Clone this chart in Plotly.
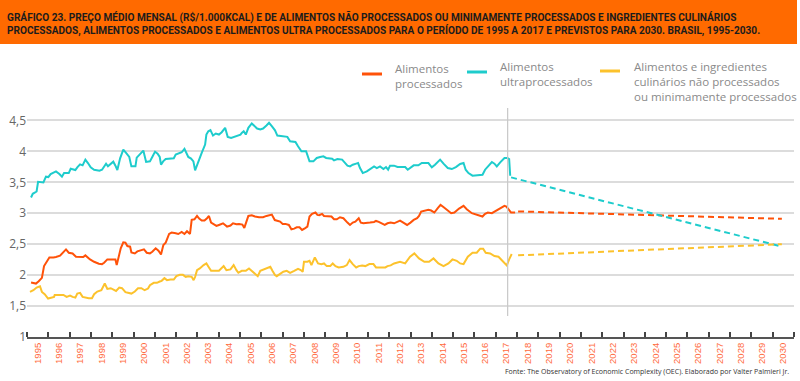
import plotly.graph_objects as go

# ---------------- DATA ----------------
years_ultra = [1995.19,1995.27,1995.38,1995.45,1995.52,1995.64,1995.77,1995.89,1996.00,1996.11,1996.24,1996.36,1996.52,1996.64,1996.74,1996.96,1997.05,1997.18,1997.27,1997.36,1997.49,1997.61,1997.74,1997.86,1997.99,1998.15,1998.40,1998.52,1998.71,1998.80,1998.93,1999.05,1999.15,1999.24,1999.37,1999.52,1999.65,1999.80,1999.90,2000.09,2000.15,2000.31,2000.46,2000.59,2000.77,
    2000.88,2001.01,2001.13,2001.23,2001.29,2001.39,2001.51,2001.73,2001.89,2001.98,2002.10,2002.26,2002.39,2002.48,2002.57,2002.70,2002.81,2002.89,2003.04,2003.20,2003.36,2003.42,2003.51,2003.61,2003.73,2003.86,2004.01,2004.14,2004.30,2004.42,2004.58,2004.70,2004.86,2005.02,2005.08,2005.17,2005.27,2005.39,2005.55,2005.67,2005.80,2005.95,2006.08,2006.24,2006.36,2006.49,
    2006.64,2006.75,2007.00,2007.22,2007.35,2007.60,2007.72,2007.88,2008.10,2008.26,2008.44,2008.60,2008.76,2008.91,2009.04,2009.32,2009.41,2009.57,2009.79,2009.91,2010.04,2010.16,2010.29,2010.45,2010.54,2010.63,2010.76,2010.95,2011.13,2011.29,2011.42,2011.57,2011.73,2011.85,2011.95,2012.04,2012.23,2012.39,2012.51,
    2012.75,2012.87,2013.03,2013.15,2013.37,2013.53,2013.84,2014.00,2014.15,2014.39,2014.55,2014.75,2014.94,2015.13,2015.33,2015.49,2015.59,2015.72,2015.91,2016.16,2016.38,2016.50,2016.63,2016.82,2016.94,2017.05,2017.21,2017.41,2017.54,2017.63,2017.68]
price_ultra = [3.255,3.315,3.336,3.352,3.509,3.509,3.499,3.591,3.585,3.634,3.650,3.677,3.634,3.591,3.650,3.650,3.720,3.704,3.699,3.742,3.791,3.775,3.867,3.812,3.742,3.704,3.688,3.704,3.802,3.758,3.796,3.834,3.769,3.699,3.888,4.029,3.975,3.910,3.758,3.758,3.899,3.959,4.013,3.829,3.839,
    3.910,3.996,3.964,3.910,3.785,3.839,3.877,3.877,3.888,3.948,3.964,3.986,4.040,3.964,3.910,3.883,3.839,3.693,3.839,3.975,4.110,4.272,4.326,4.343,4.256,4.289,4.272,4.310,4.381,4.235,4.218,4.235,4.256,4.272,4.299,4.326,4.272,4.381,4.451,4.408,4.370,4.354,4.370,4.418,4.462,4.408,
    4.340,4.256,4.245,4.235,4.164,4.153,4.083,4.002,4.002,3.839,3.839,3.894,3.910,3.921,3.894,3.883,3.856,3.877,3.867,3.812,3.769,3.758,3.785,3.802,3.812,3.731,3.650,3.677,3.715,3.758,3.731,3.758,3.715,3.747,3.704,3.769,3.769,3.747,3.747,
    3.747,3.704,3.747,3.775,3.775,3.812,3.812,3.742,3.785,3.867,3.802,3.731,3.715,3.747,3.796,3.812,3.704,3.650,3.607,3.612,3.623,3.704,3.758,3.829,3.802,3.758,3.823,3.894,3.894,3.877,3.607]

years_proc = [1995.19,1995.30,1995.42,1995.55,1995.70,1995.80,1995.92,1996.05,1996.24,1996.36,1996.55,1996.71,1996.83,1996.96,1997.14,1997.30,1997.49,1997.64,1997.74,1997.96,1998.15,1998.37,1998.52,1998.62,1998.77,1998.96,1999.15,1999.21,1999.30,1999.40,1999.52,1999.62,1999.71,1999.84,1999.90,2000.06,2000.18,2000.37,2000.49,2000.62,2000.77,
    2000.88,2001.04,2001.17,2001.29,2001.40,2001.51,2001.67,2001.79,2001.98,2002.10,2002.26,2002.39,2002.51,2002.65,2002.73,2002.86,2002.98,2003.08,2003.20,2003.33,2003.45,2003.54,2003.64,2003.76,2003.89,2004.01,2004.20,2004.39,2004.55,2004.67,2004.83,2004.95,2005.11,2005.20,2005.39,2005.55,2005.70,2005.89,2006.08,2006.24,2006.36,2006.49,
    2006.63,2006.75,2006.88,2007.00,2007.13,2007.29,2007.41,2007.54,2007.66,2007.79,2007.91,2008.04,2008.16,2008.26,2008.38,2008.54,2008.63,2008.72,2008.85,2008.94,2009.10,2009.29,2009.41,2009.54,2009.69,2009.85,2010.04,2010.16,2010.29,2010.41,2010.57,2010.67,2010.79,2010.95,2011.10,2011.29,2011.38,2011.51,2011.64,2011.79,2011.92,2012.07,2012.23,2012.39,2012.51,
    2012.72,2012.84,2013.00,2013.15,2013.31,2013.40,2013.50,2013.65,2013.84,2013.97,2014.12,2014.28,2014.41,2014.56,2014.75,2014.91,2015.06,2015.28,2015.49,2015.64,2015.88,2016.11,2016.38,2016.50,2016.63,2016.82,2016.94,2017.13,2017.25,2017.41,2017.50,2017.60,2017.72,2017.91]
price_proc = [1.881,1.875,1.864,1.902,1.956,2.146,2.216,2.286,2.286,2.292,2.314,2.378,2.416,2.362,2.351,2.297,2.292,2.292,2.319,2.254,2.216,2.184,2.178,2.200,2.254,2.254,2.254,2.162,2.297,2.433,2.530,2.525,2.470,2.460,2.368,2.351,2.384,2.406,2.416,2.362,2.351,
    2.378,2.433,2.395,2.335,2.487,2.525,2.665,2.687,2.676,2.665,2.698,2.665,2.709,2.665,2.893,2.903,2.957,2.914,2.882,2.882,2.920,2.957,2.849,2.828,2.795,2.811,2.838,2.784,2.801,2.838,2.822,2.828,2.817,2.763,2.957,2.968,2.947,2.936,2.936,2.957,2.968,2.979,
    2.890,2.882,2.865,2.828,2.828,2.811,2.741,2.752,2.773,2.773,2.730,2.757,2.784,2.947,2.990,3.012,2.974,2.968,2.990,2.957,2.947,2.947,2.903,2.903,2.936,2.920,2.849,2.811,2.849,2.865,2.920,2.849,2.838,2.849,2.849,2.860,2.876,2.860,2.838,2.811,2.838,2.849,2.838,2.871,2.882,
    2.838,2.811,2.849,2.892,2.920,2.957,3.028,3.044,3.055,3.044,3.012,3.082,3.136,3.098,3.044,3.001,3.012,3.076,3.120,3.066,3.001,2.974,2.947,2.990,3.012,3.001,3.028,3.066,3.087,3.120,3.109,3.066,3.012,3.012]

years_fresh = [1995.14,1995.30,1995.45,1995.61,1995.70,1995.83,1995.99,1996.14,1996.27,1996.30,1996.55,1996.71,1996.86,1997.02,1997.14,1997.27,1997.36,1997.49,1997.61,1997.74,1997.90,1998.05,1998.15,1998.30,1998.49,1998.65,1998.77,1998.93,1999.08,1999.18,1999.33,1999.46,1999.62,1999.77,1999.90,2000.06,2000.21,2000.37,2000.52,2000.68,2000.77,
    2000.95,2001.10,2001.23,2001.32,2001.45,2001.57,2001.73,2001.89,2002.01,2002.17,2002.32,2002.45,2002.57,2002.73,2002.82,2002.89,2002.98,2003.11,2003.29,2003.42,2003.54,2003.64,2003.83,2004.01,2004.23,2004.36,2004.55,2004.70,2004.83,2004.92,2005.08,2005.27,2005.42,2005.64,2005.83,2005.95,2006.11,2006.27,2006.42,2006.52,2006.64,
    2006.72,2006.88,2007.03,2007.19,2007.35,2007.54,2007.72,2007.85,2007.94,2008.00,2008.16,2008.26,2008.35,2008.51,2008.66,2008.82,2008.94,2009.07,2009.23,2009.35,2009.48,2009.63,2009.85,2010.01,2010.14,2010.29,2010.45,2010.57,2010.73,2010.88,2011.07,2011.26,2011.38,2011.57,2011.82,2011.92,2012.07,2012.23,2012.51,
    2012.75,2012.98,2013.18,2013.40,2013.65,2013.87,2014.08,2014.31,2014.55,2014.78,2014.97,2015.17,2015.33,2015.49,2015.69,2015.91,2016.11,2016.27,2016.41,2016.53,2016.74,2016.94,2017.13,2017.32,2017.52,2017.63,2017.75]
price_fresh = [1.729,1.756,1.799,1.821,1.729,1.691,1.621,1.637,1.648,1.680,1.680,1.680,1.648,1.670,1.648,1.637,1.702,1.713,1.648,1.637,1.626,1.626,1.691,1.735,1.756,1.864,1.778,1.789,1.767,1.745,1.799,1.789,1.724,1.713,1.702,1.735,1.789,1.789,1.756,1.783,1.837,
    1.875,1.875,1.897,1.908,1.951,1.919,1.929,1.929,1.983,2.005,2.005,1.973,1.983,1.973,1.919,1.973,2.081,2.108,2.162,2.189,2.124,2.070,2.070,2.070,2.146,2.081,2.092,2.162,2.081,2.038,2.070,2.070,2.108,2.038,1.983,2.070,2.092,2.108,2.135,2.070,2.000,
    1.983,2.027,2.054,2.070,2.038,2.070,2.103,2.081,2.054,2.216,2.216,2.232,2.162,2.286,2.189,2.178,2.189,2.146,2.146,2.189,2.146,2.124,2.135,2.162,2.243,2.178,2.124,2.146,2.157,2.146,2.178,2.178,2.124,2.124,2.124,2.146,2.157,2.189,2.216,
    2.189,2.297,2.351,2.270,2.216,2.216,2.270,2.189,2.146,2.189,2.254,2.232,2.189,2.178,2.297,2.362,2.362,2.427,2.427,2.362,2.351,2.308,2.297,2.232,2.157,2.254,2.341]

# forecasts (start, 2030)
fc_years_ultra = [2017.72, 2030.43]
fc_ultra = [3.58, 2.46]
fc_years_proc = [2018.05, 2030.43]
fc_proc = [3.03, 2.91]
fc_years_fresh = [2018.05, 2030.43]
fc_fresh = [2.32, 2.50]

split_year = 2017.56
tick_years = list(range(1995, 2031))
y_ticks = [1, 1.5, 2, 2.5, 3, 3.5, 4, 4.5]
y_ticktext = ["1", "1,5", "2", "2,5", "3", "3,5", "4", "4,5"]

names = ["Alimentos<br>processados", "Alimentos<br>ultraprocessados",
         "Alimentos e ingredientes<br>culinários não processados<br>ou minimamente processados"]
title_text = ("GRÁFICO 23. PREÇO MÉDIO MENSAL (R$/1.000KCAL) E DE ALIMENTOS NÃO PROCESSADOS OU MINIMAMENTE PROCESSADOS E INGREDIENTES CULINÁRIOS<br>"
              "PROCESSADOS, ALIMENTOS PROCESSADOS E ALIMENTOS ULTRA PROCESSADOS PARA O PERÍODO DE 1995 A 2017 E PREVISTOS PARA 2030. BRASIL, 1995-2030.")
source_text = "Fonte: The Observatory of Economic Complexity (OEC). Elaborado por Valter Palmieri Jr."

# ---------------- STYLE ----------------
C_PROC = "#ff5209"
C_ULTRA = "#1ecccc"
C_FRESH = "#fcc22c"
W, H = 800, 381
ML, MR, MT, MB = 27, 6, 105, 44
PW, PH = W - ML - MR, H - MT - MB

def px(x):
    return (x - ML) / PW

def py(y):
    return (H - MB - y) / PH

fig = go.Figure()
for xs, ys, c in [(years_proc, price_proc, C_PROC), (years_ultra, price_ultra, C_ULTRA), (years_fresh, price_fresh, C_FRESH)]:
    fig.add_trace(go.Scatter(x=xs, y=ys, mode="lines", line=dict(color=c, width=2), showlegend=False, hoverinfo="skip"))
for xs, ys, c in [(fc_years_proc, fc_proc, C_PROC), (fc_years_ultra, fc_ultra, C_ULTRA), (fc_years_fresh, fc_fresh, C_FRESH)]:
    fig.add_trace(go.Scatter(x=xs, y=ys, mode="lines", line=dict(color=c, width=2, dash="6px,4px"), showlegend=False, hoverinfo="skip"))

shapes = [
    dict(type="rect", xref="paper", yref="paper", x0=px(0), x1=px(797), y0=py(44), y1=py(0),
         fillcolor="#ff6a00", line=dict(width=0), layer="below"),
    dict(type="line", xref="x", yref="y", x0=split_year, x1=split_year, y0=1.34, y1=4.70,
         line=dict(color="#c8c8c8", width=1.2)),
]
annotations = [
    dict(text="<b>" + title_text + "</b>", xref="paper", yref="paper", x=px(5), y=py(24),
         xanchor="left", yanchor="middle", align="left", showarrow=False,
         font=dict(family="Roboto", size=10.1, color="#1c1c1c")),
    dict(text=source_text, xref="paper", yref="paper", x=px(791), y=py(371), xanchor="right", yanchor="middle",
         showarrow=False, font=dict(family="Open Sans", size=7, color="#333333")),
]
legend_items = [(C_PROC, 362, 74, 393, 59, names[0]), (C_ULTRA, 467, 72, 498, 57, names[1]), (C_FRESH, 600, 71, 632, 57, names[2])]
for c, lx, ly, tx, ty, txt in legend_items:
    shapes.append(dict(type="line", xref="paper", yref="paper", x0=px(lx), x1=px(lx + 20), y0=py(ly), y1=py(ly),
                       line=dict(color=c, width=3)))
    annotations.append(dict(text=txt, xref="paper", yref="paper", x=px(tx), y=py(ty), xanchor="left", yanchor="top",
                            align="left", showarrow=False, font=dict(family="Open Sans", size=11.5, color="#8a8a8a")))

fig.update_layout(
    width=W, height=H, margin=dict(l=ML, r=MR, t=MT, b=MB),
    paper_bgcolor="white", plot_bgcolor="white",
    shapes=shapes, annotations=annotations, showlegend=False,
    xaxis=dict(range=[1995, 2031], tickmode="array", tickvals=[y + 0.5 for y in tick_years],
               ticktext=[str(y) for y in tick_years], tickangle=-90, ticks="", showgrid=False, zeroline=False,
               tickfont=dict(family="Liberation Sans", size=9.5, color="#ff6a3d"),
               showline=True, linecolor="#555555", linewidth=2,
               minor=dict(tick0=1995, dtick=1, ticks="inside", ticklen=5, tickcolor="#444444", tickwidth=1.5, showgrid=False)),
    yaxis=dict(range=[1, 4.75], tickmode="array", tickvals=y_ticks, ticktext=y_ticktext, showgrid=True,
               gridcolor="#dcdcdc", gridwidth=1.5, zeroline=False, ticks="",
               tickfont=dict(family="Open Sans", size=12, color="#666666")),
)
fig.write_html("out.html", config={"displayModeBar": False}, post_script="document.body.style.margin='0';")
